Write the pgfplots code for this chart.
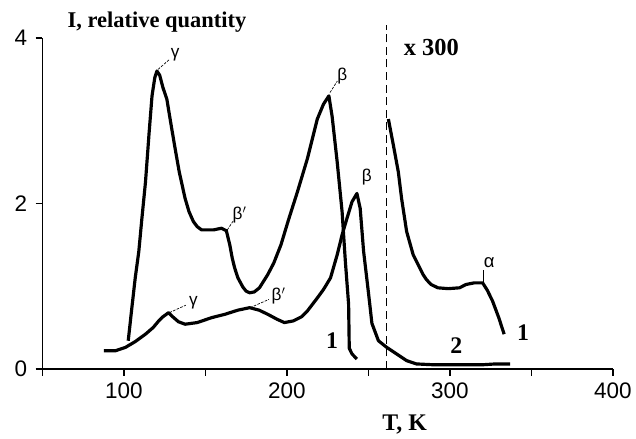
\documentclass[border=0pt]{standalone}
\usepackage{pgfplots}
\pgfplotsset{compat=1.18}
\usepackage{fontspec}
\setmainfont{Liberation Serif}
\newfontfamily\sansf{Liberation Sans}
\begin{document}
\begin{tikzpicture}
\begin{axis}[
  scale only axis,
  width=431.5pt, height=250.3pt,
  xmin=50, xmax=400, ymin=0, ymax=4,
  axis lines*=left,
  clip=false,
  x axis line style={line width=1.9pt},
  y axis line style={line width=1.2pt},
  xtick={50,100,...,400},
  xticklabels={,100,,200,,300,,400},
  ytick={0,2,4},
  tick align=outside,
  major tick length=5pt,
  every tick/.style={black, line width=1.1pt},
  /pgf/number format/assume math mode=true,
  tick label style={font=\sansf\fontsize{17}{20}\selectfont},
  xticklabel style={yshift=-2pt},
  yticklabel style={xshift=-3pt},
  xlabel={\textbf{T, K}},
  xlabel style={font=\fontsize{18}{21}\selectfont, at={(axis description cs:0.635,-0.168)}, anchor=center},
  ylabel={\textbf{I, relative quantity}},
  ylabel style={font=\fontsize{17}{20}\selectfont, rotate=-90, at={(axis description cs:0.036,1.049)}, anchor=west},
]
% curve 1 (upper)
\addplot[black, line width=2.4pt, line join=round] coordinates {
(102.7,0.34) (105,0.75) (107,1.10) (109.2,1.42) (111,1.80) (113.3,2.26) (115.5,2.85) (117.3,3.30) (119,3.52) (120.3,3.60)
(122,3.55) (124,3.40) (126.4,3.26) (129,2.95) (131.5,2.66) (134,2.38) (137.6,2.06) (140,1.90) (142.7,1.78) (145,1.72)
(147.7,1.68) (155,1.68) (159.9,1.70) (162.9,1.67) (165,1.50) (166.5,1.34) (168,1.22) (170,1.10) (173,0.99) (175,0.94)
(177.2,0.92) (180,0.93) (183.2,0.98) (188.3,1.14) (192,1.28) (196.4,1.50) (201,1.80) (206.5,2.14) (212.6,2.54) (218.7,3.02)
(222.5,3.20) (225.8,3.30) (227.8,3.05) (230.9,2.50) (233.9,1.90) (235.9,1.30) (237.9,0.78) (238.3,0.25) (240,0.18) (243,0.12)
};
% curve 2 (lower)
\addplot[black, line width=2.4pt, line join=round] coordinates {
(87.8,0.22) (95,0.22) (101,0.26) (107,0.33) (113.3,0.42) (118,0.50) (121.4,0.58) (124,0.63) (127.5,0.68) (130,0.63)
(133.5,0.57) (137.6,0.54) (145,0.56) (154,0.62) (162,0.66) (170,0.71) (177.2,0.74) (183,0.71) (188.3,0.66) (194,0.60)
(198.5,0.56) (204,0.58) (209,0.63) (212.6,0.70) (218.8,0.86) (222.5,0.96) (226.8,1.10) (230.9,1.38) (233.9,1.62) (236.9,1.82)
(240,2.02) (243,2.12) (245,1.94) (247.1,1.42) (250.2,0.90) (252.2,0.55) (256.2,0.34) (261.3,0.26) (267.4,0.18) (273.5,0.10)
(279.5,0.06) (290,0.05) (300,0.05) (310,0.05) (320,0.05) (328,0.06) (337,0.06)
};
% curve 1 magnified x300
\addplot[black, line width=2.4pt, line join=round] coordinates {
(262.3,3.02) (265.4,2.70) (268.4,2.38) (270.4,2.06) (273.5,1.66) (277.5,1.38) (283.6,1.14) (285.6,1.08) (288.5,1.02)
(292.7,0.98) (299,0.97) (305.9,0.98) (309.9,1.02) (315,1.04) (320.1,1.04) (323,0.95) (326.2,0.82) (330,0.62) (333.3,0.42)
};
% dashed divider
\addplot[black, line width=0.9pt, dash pattern=on 6pt off 3.5pt] coordinates {(261.3,0) (261.3,4.16)};
% leader lines
\addplot[black, line width=0.5pt, dash pattern=on 2pt off 1pt, forget plot] coordinates {(121,3.62) (128,3.74)};
\addplot[black, line width=0.5pt, dash pattern=on 2pt off 1pt, forget plot] coordinates {(163.5,1.68) (167.5,1.80)};
\addplot[black, line width=0.5pt, dash pattern=on 2pt off 1pt, forget plot] coordinates {(128,0.68) (138,0.77)};
\addplot[black, line width=0.5pt, dash pattern=on 2pt off 1pt, forget plot] coordinates {(177.5,0.74) (189,0.84)};
\addplot[black, line width=0.5pt, dash pattern=on 2pt off 1pt, forget plot] coordinates {(226.5,3.34) (231,3.48)};
\addplot[black, line width=0.6pt, forget plot] coordinates {(320.5,1.04) (320.5,1.20)};
% annotations
\node[font=\sansf\fontsize{13}{15}\selectfont] at (axis cs:131.5,3.80) {γ};
\node[font=\sansf\fontsize{13}{15}\selectfont] at (axis cs:171,1.86) {β$'$};
\node[font=\sansf\fontsize{13}{15}\selectfont] at (axis cs:142.7,0.80) {γ};
\node[font=\sansf\fontsize{13}{15}\selectfont] at (axis cs:195,0.88) {β$'$};
\node[font=\sansf\fontsize{13}{15}\selectfont] at (axis cs:234,3.54) {β};
\node[font=\sansf\fontsize{13}{15}\selectfont] at (axis cs:249.1,2.32) {β};
\node[font=\sansf\fontsize{14}{16}\selectfont] at (axis cs:324.1,1.28) {α};
\node[font=\bfseries\fontsize{18}{21}\selectfont] at (axis cs:227.8,0.34) {1};
\node[font=\bfseries\fontsize{18}{21}\selectfont] at (axis cs:345,0.44) {1};
\node[font=\bfseries\fontsize{18}{21}\selectfont] at (axis cs:304,0.28) {2};
\node[font=\bfseries\fontsize{18.5}{21}\selectfont] at (axis cs:288.7,3.88) {x 300};
\end{axis}
\path (current axis.south west) ++(-32pt,-51.75pt) rectangle ([xshift=13.5pt,yshift=28.7pt]current axis.north east);
\end{tikzpicture}
\end{document}
